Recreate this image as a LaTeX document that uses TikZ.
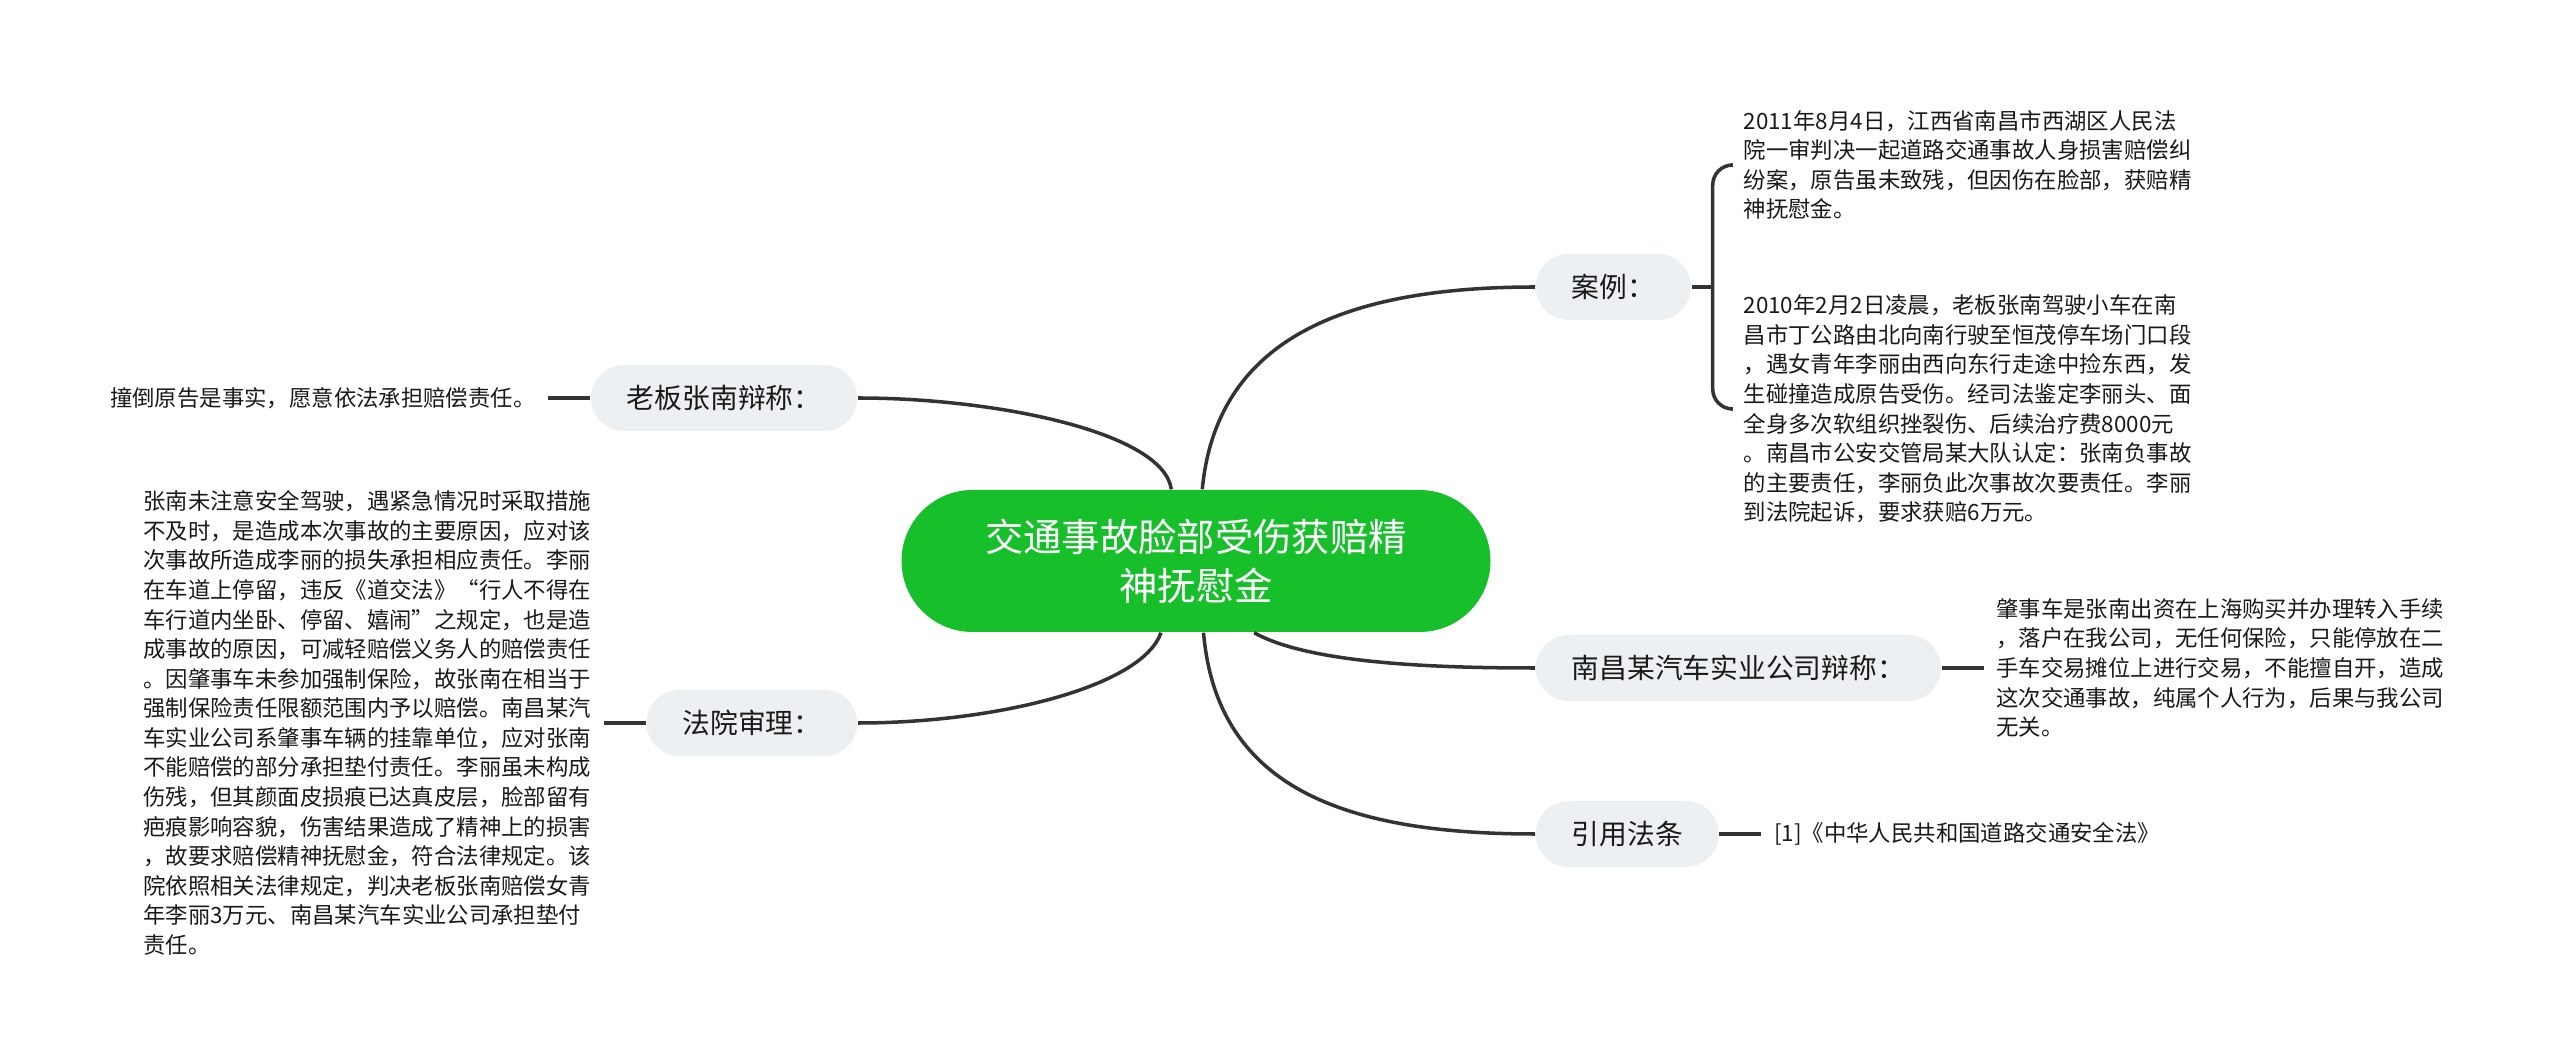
\documentclass[tikz,border=0pt]{standalone}
\usepackage{fontspec}
\setmainfont{Noto Sans CJK SC}
\usetikzlibrary{positioning}
\definecolor{rootgreen}{HTML}{17C02B}
\definecolor{pillgray}{HTML}{EDF0F3}
\definecolor{inkgray}{HTML}{333333}

\begin{document}
\begin{tikzpicture}[
  node distance=0.42cm,
  every node/.style={text=black!90},
  root/.style={fill=rootgreen, text=white, rounded corners=0.71cm,
               minimum width=5.89cm, minimum height=1.42cm, align=center,
               font=\fontsize{10.9pt}{13.9pt}\selectfont},
  branch/.style={fill=pillgray, rounded corners=0.33cm, minimum height=0.66cm,
                 inner xsep=0.36cm, font=\fontsize{7.9pt}{9pt}\selectfont},
  leaf/.style={align=left, inner xsep=0.12cm, inner ysep=0pt,
               font=\fontsize{6.37pt}{8.42pt}\selectfont},
  link/.style={draw=inkgray, line width=1pt}
]
  \useasboundingbox (0,0) rectangle (25.6,-10.63);

  \node[root] (root) at (11.96,-5.61) {交通事故脸部受伤获赔精\\神抚慰金};

  \node[branch, anchor=west] (anli)   at (15.35,-2.87) {案例：};
  \node[branch, anchor=west] (nc)     at (15.35,-6.68) {南昌某汽车实业公司辩称：};
  \node[branch, anchor=west] (yy)     at (15.35,-8.34) {引用法条};
  \node[branch, anchor=east] (laoban) at (8.58,-3.98)  {老板张南辩称：};
  \node[branch, anchor=east] (fayuan) at (8.58,-7.23)  {法院审理：};

  \coordinate[right=0.21cm of anli] (br);
  \node[leaf, anchor=west] (case1) at (17.31,-1.65) {2011年8月4日，江西省南昌市西湖区人民法\\院一审判决一起道路交通事故人身损害赔偿纠\\纷案，原告虽未致残，但因伤在脸部，获赔精\\神抚慰金。};
  \node[leaf, anchor=west] (case2) at (17.31,-4.09) {2010年2月2日凌晨，老板张南驾驶小车在南\\昌市丁公路由北向南行驶至恒茂停车场门口段\\，遇女青年李丽由西向东行走途中捡东西，发\\生碰撞造成原告受伤。经司法鉴定李丽头、面\\全身多次软组织挫裂伤、后续治疗费8000元\\。南昌市公安交管局某大队认定：张南负事故\\的主要责任，李丽负此次事故次要责任。李丽\\到法院起诉，要求获赔6万元。};
  \node[leaf, right=of nc] (nctext) {肇事车是张南出资在上海购买并办理转入手续\\，落户在我公司，无任何保险，只能停放在二\\手车交易摊位上进行交易，不能擅自开，造成\\这次交通事故，纯属个人行为，后果与我公司\\无关。};
  \node[leaf, right=of yy] (yytext) {[1]《中华人民共和国道路交通安全法》};
  \node[leaf, left=of laoban] (lbtext) {撞倒原告是事实，愿意依法承担赔偿责任。};
  \node[leaf, left=of fayuan] (fytext) {张南未注意安全驾驶，遇紧急情况时采取措施\\不及时，是造成本次事故的主要原因，应对该\\次事故所造成李丽的损失承担相应责任。李丽\\在车道上停留，违反《道交法》“行人不得在\\车行道内坐卧、停留、嬉闹”之规定，也是造\\成事故的原因，可减轻赔偿义务人的赔偿责任\\。因肇事车未参加强制保险，故张南在相当于\\强制保险责任限额范围内予以赔偿。南昌某汽\\车实业公司系肇事车辆的挂靠单位，应对张南\\不能赔偿的部分承担垫付责任。李丽虽未构成\\伤残，但其颜面皮损痕已达真皮层，脸部留有\\疤痕影响容貌，伤害结果造成了精神上的损害\\，故要求赔偿精神抚慰金，符合法律规定。该\\院依照相关法律规定，判决老板张南赔偿女青\\年李丽3万元、南昌某汽车实业公司承担垫付\\责任。};

  \draw[link] (root.85) .. controls +(0.14,1.47) and +(-1.96,0) .. (anli.west);
  \draw[link] (root.109) .. controls +(-0.08,0.57) and +(1.38,0) .. (laoban.east);
  \draw[link] (root.244) .. controls +(-0.19,-0.54) and +(1.38,0) .. (fayuan.east);
  \draw[link] (root.309) .. controls +(0.52,-0.29) and +(-1.15,0) .. (nc.west);
  \draw[link] (root.276) .. controls +(0.13,-1.52) and +(-1.96,0) .. (yy.west);

  \draw[link] (anli) -- (br);
  \draw[link, rounded corners=0.2cm] (br) |- (case1.west);
  \draw[link, rounded corners=0.2cm] (br) |- (case2.west);
  \draw[link] (nc) -- (nctext);
  \draw[link] (yy) -- (yytext);
  \draw[link] (laoban) -- (lbtext);
  \draw[link] (fayuan) -- (fytext);
\end{tikzpicture}
\end{document}
